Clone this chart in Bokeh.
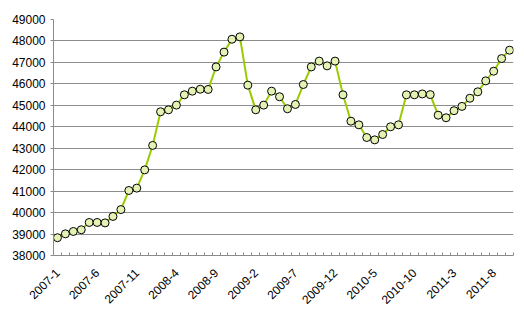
import math
from bokeh.plotting import figure
from bokeh.models import FixedTicker, ColumnDataSource, Range1d
from bokeh.embed import file_html
from bokeh.resources import INLINE

months = [f"{y}-{m}" for y in range(2007, 2012) for m in range(1, 13)][:58]
values = [
    38830, 39010, 39120, 39200, 39540, 39540, 39520, 39820, 40140, 41030, 41140, 41990,
    43130, 44700, 44790, 45010, 45490, 45660, 45750, 45740, 46790, 47480, 48080, 48190,
    45940, 44790, 45010, 45660, 45400, 44840, 45040, 45970, 46790, 47060, 46840, 47060,
    45490, 44260, 44090, 43500, 43390, 43640, 44000, 44090, 45490, 45490, 45530, 45500,
    44540, 44420, 44750, 44950, 45330, 45630, 46140, 46590, 47180, 47570,
]
tick_labels = months[::5]
y_ticks = list(range(38000, 49001, 1000))

idx = list(range(len(months)))
src = ColumnDataSource(dict(x=idx, y=values))

p = figure(width=516, height=312, output_backend="svg", toolbar_location=None,
           x_range=Range1d(-0.5, len(months) - 0.5), y_range=Range1d(38000, 49000),
           min_border_left=53, min_border_right=3, min_border_top=19, min_border_bottom=57)
p.outline_line_color = None
p.background_fill_color = "white"
p.border_fill_color = "white"

p.line("x", "y", source=src, line_color="#99cc00", line_width=2)
p.scatter("x", "y", source=src, size=8, marker="circle",
          fill_color="#e4f2b4", line_color="black", line_width=1)

grey = "#8c8c8c"
p.xgrid.grid_line_color = None
p.ygrid.grid_line_color = grey
p.ygrid.grid_line_width = 1
p.ygrid.ticker = FixedTicker(ticks=y_ticks)

p.yaxis.ticker = FixedTicker(ticks=y_ticks)
p.yaxis.axis_line_color = grey
p.yaxis.major_tick_line_color = grey
p.yaxis.major_tick_out = 3
p.yaxis.major_tick_in = 0
p.yaxis.minor_tick_line_color = None
p.yaxis.major_label_standoff = 5
p.yaxis.major_label_text_font = "Liberation Sans"
p.yaxis.major_label_text_font_size = "12px"
p.yaxis.major_label_text_color = "black"

pos = idx[::5]
p.xaxis.ticker = FixedTicker(ticks=pos, minor_ticks=[i - 0.5 for i in range(len(months) + 1)])
p.xaxis.major_label_overrides = {i: lab for i, lab in zip(pos, tick_labels)}
p.xaxis.major_label_orientation = math.pi / 4
p.xaxis.axis_line_color = grey
p.xaxis.major_tick_line_color = None
p.xaxis.minor_tick_line_color = grey
p.xaxis.minor_tick_in = 3
p.xaxis.minor_tick_out = 0
p.xaxis.major_label_standoff = 9
p.xaxis.major_label_text_font = "Liberation Sans"
p.xaxis.major_label_text_font_size = "12px"
p.xaxis.major_label_text_color = "black"

open("out.html", "w").write(file_html(p, INLINE))
